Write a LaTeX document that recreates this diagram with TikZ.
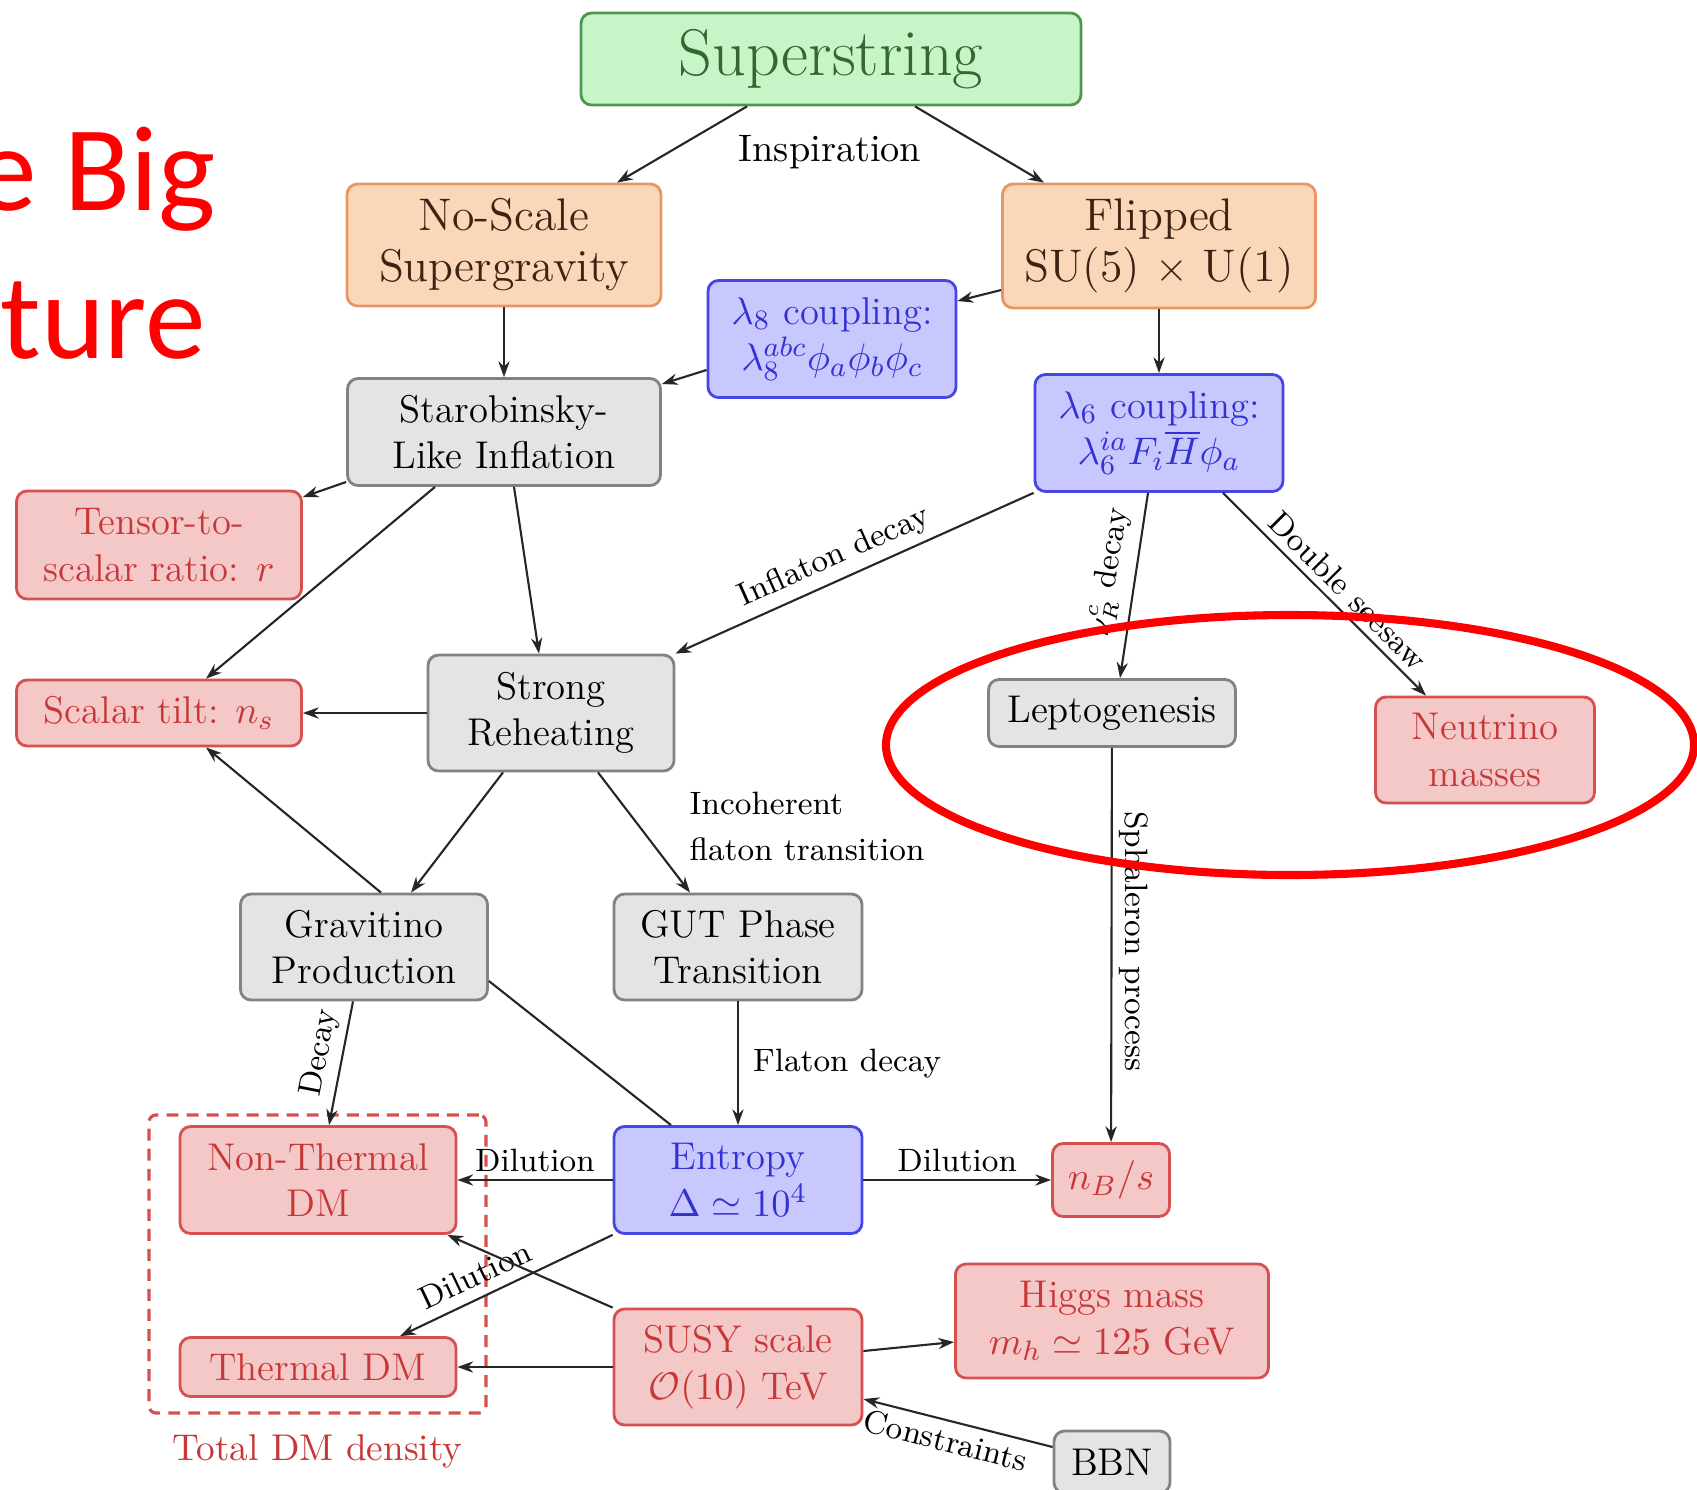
\documentclass[tikz,border=0pt]{standalone}
\usepackage{amsmath}
\usepackage{amssymb}
\usepackage{fontspec}
\newfontfamily\slidefont{Carlito}
\usetikzlibrary{arrows.meta,positioning}

\definecolor{supfill}{RGB}{200,245,200}
\definecolor{supdraw}{RGB}{80,150,80}
\definecolor{suptext}{RGB}{50,105,50}
\definecolor{orfill}{RGB}{250,215,185}
\definecolor{ordraw}{RGB}{230,150,100}
\definecolor{ortext}{RGB}{60,35,20}
\definecolor{blfill}{RGB}{200,200,255}
\definecolor{bldraw}{RGB}{70,70,230}
\definecolor{bltext}{RGB}{50,50,210}
\definecolor{grfill}{RGB}{228,228,228}
\definecolor{grdraw}{RGB}{130,130,130}
\definecolor{rdfill}{RGB}{245,200,200}
\definecolor{rddraw}{RGB}{215,80,80}
\definecolor{rdtext}{RGB}{200,55,55}

\tikzset{
  box/.style={draw, rounded corners=3pt, line width=0.8pt, align=center, inner sep=1pt,
    font=\fontsize{11}{13.2}\selectfont},
  wh/.style 2 args={minimum width=#1cm, minimum height=#2cm},
  supbox/.style={box, fill=supfill, draw=supdraw, text=suptext, font=\fontsize{18.8}{21}\selectfont},
  orbox/.style={box, fill=orfill, draw=ordraw, text=ortext, font=\fontsize{13}{14.5}\selectfont},
  blbox/.style={box, fill=blfill, draw=bldraw, text=bltext},
  grbox/.style={box, fill=grfill, draw=grdraw},
  rdbox/.style={box, fill=rdfill, draw=rddraw, text=rdtext},
  arr/.style={-{Stealth[length=4.5pt,width=3.2pt]}, line width=0.6pt, black!85},
  plain/.style={line width=0.6pt, black!85},
  lbl/.style={font=\fontsize{9.2}{13.2}\selectfont, inner sep=2pt, text=black},
  dmframe/.style={draw=rddraw, dashed, dash pattern=on 3.4pt off 2.3pt, line width=0.9pt, rounded corners=2pt},
  slide/.style={text=red, font=\slidefont\fontsize{34.5}{40}\selectfont, inner sep=0pt},
}

\begin{document}
\begin{tikzpicture}
\useasboundingbox (0,0) rectangle (16.97,-14.89);
\clip (0,0) rectangle (16.97,-14.89);

\node[slide, anchor=base east] (tbig) at (2.16,-2.10) {e Big};
\node[slide, anchor=base west] (tture) at (0.00,-3.58) {ture};

\node[supbox, wh={5.00}{0.92}] (super) at (8.31,-0.59) {Superstring};
\node[orbox, wh={3.14}{1.22}] (noscale) at (5.04,-2.45) {No-Scale\\Supergravity};
\node[orbox, wh={3.13}{1.24}] (flipped) at (11.59,-2.46) {Flipped\\SU(5) $\times$ U(1)};
\node[blbox, wh={2.48}{1.17}] (lam8) at (8.32,-3.39) {$\lambda_8$ coupling:\\$\lambda_8^{abc}\phi_a\phi_b\phi_c$};
\node[grbox, wh={3.13}{1.07}] (staro) at (5.04,-4.32) {Starobinsky-\\Like Inflation};
\node[blbox, wh={2.48}{1.17}] (lam6) at (11.59,-4.33) {$\lambda_6$ coupling:\\$\lambda_6^{ia}F_i\overline{H}\phi_a$};
\node[rdbox, wh={2.85}{1.08}] (tensor) at (1.59,-5.45) {Tensor-to-\\scalar ratio: $r$};
\node[rdbox, wh={2.85}{0.66}] (tilt) at (1.59,-7.13) {Scalar tilt: $n_s$};
\node[grbox, wh={2.46}{1.16}] (reheat) at (5.51,-7.13) {Strong\\Reheating};
\node[grbox, wh={2.47}{0.67}] (lepto) at (11.12,-7.13) {Leptogenesis};
\node[rdbox, wh={2.19}{1.06}] (numass) at (14.85,-7.50) {Neutrino\\masses};
\node[grbox, wh={2.47}{1.06}] (gravi) at (3.64,-9.47) {Gravitino\\Production};
\node[grbox, wh={2.48}{1.06}] (gut) at (7.38,-9.47) {GUT Phase\\Transition};
\node[rdbox, wh={2.76}{1.07}] (nonth) at (3.18,-11.80) {Non-Thermal\\DM};
\node[blbox, wh={2.48}{1.07}] (entropy) at (7.38,-11.80) {Entropy\\$\Delta\simeq10^4$};
\node[rdbox, wh={1.17}{0.73}] (nbs) at (11.11,-11.80) {$n_B/s$};
\node[rdbox, wh={2.76}{0.59}] (thermal) at (3.18,-13.67) {Thermal DM};
\node[rdbox, wh={2.48}{1.16}] (susy) at (7.38,-13.67) {SUSY scale\\$\mathcal{O}(10)$ TeV};
\node[rdbox, wh={3.13}{1.14}] (higgs) at (11.12,-13.21) {Higgs mass\\$m_h\simeq125$ GeV};
\node[grbox, wh={1.16}{0.62}] (bbn) at (11.12,-14.62) {BBN};

\node[dmframe, wh={3.37}{2.98}] (dmbox) at (3.175,-12.64) {};
\node[text=rdtext, font=\fontsize{10.6}{12}\selectfont, below=0.08cm of dmbox] (dmlabel) {Total DM density};

\draw[arr] ([xshift=-0.84cm]super.south) -- ([xshift=1.13cm]noscale.north);
\draw[arr] ([xshift=0.84cm]super.south) -- ([xshift=-1.15cm]flipped.north);
\node[font=\fontsize{10.9}{13}\selectfont] (insp) at (8.30,-1.52) {Inspiration};
\draw[arr] (noscale) -- (staro);
\draw[arr] ([yshift=-0.44cm]flipped.west) -- ([yshift=0.38cm]lam8.east);
\draw[arr] ([yshift=-0.31cm]lam8.west) -- ([yshift=0.48cm]staro.east);
\draw[arr] (flipped) -- (lam6);
\draw[arr] ([yshift=-0.50cm]staro.west) -- ([yshift=0.48cm]tensor.east);
\draw[arr] ([xshift=-0.69cm]staro.south) -- ([xshift=0.47cm]tilt.north);
\draw[arr] ([xshift=0.10cm]staro.south) -- ([xshift=-0.12cm]reheat.north);
\draw[arr] (lam6.south west) -- node[lbl, sloped, above, pos=0.53] {Inflaton decay} (reheat.north east);
\draw[arr] ([xshift=-0.11cm]lam6.south) -- node[lbl, sloped, above=1pt, pos=0.45] {$\nu^c_R$ decay} ([xshift=0.08cm]lepto.north);
\draw[arr] ([xshift=0.64cm]lam6.south) -- node[lbl, sloped, above, pos=0.55] {Double seesaw} ([xshift=-0.59cm]numass.north);
\draw[arr] (reheat) -- (tilt);
\draw[arr] ([xshift=-0.48cm]reheat.south) -- ([xshift=0.47cm]gravi.north);
\draw[arr] ([xshift=0.47cm]reheat.south) -- node[lbl, align=left, pos=0.45, right=12pt] {Incoherent\\flaton transition} ([xshift=-0.48cm]gut.north);
\draw[arr] ([xshift=0.17cm]gravi.north) -- ([xshift=0.47cm]tilt.south);
\draw[arr] ([xshift=-0.11cm]gravi.south) -- node[lbl, sloped, above, pos=0.45] {Decay} ([xshift=0.11cm]nonth.north);
\draw[plain] ([yshift=-0.34cm]gravi.east) -- ([xshift=-0.67cm]entropy.north);
\draw[arr] (gut) -- node[lbl, right=2pt] {Flaton decay} (entropy);
\draw[arr] (entropy) -- node[lbl, above] {Dilution} (nonth);
\draw[arr] (entropy) -- node[lbl, above] {Dilution} (nbs);
\draw[arr] (lepto) -- node[lbl, rotate=-90, above=1pt] {Sphaleron process} (nbs);
\draw[arr] (entropy.south west) -- node[lbl, sloped, above=1pt, pos=0.6] {Dilution} ([xshift=0.82cm]thermal.north);
\draw[arr] (susy.north west) -- ([xshift=-0.10cm]nonth.south east);
\draw[arr] (susy) -- (thermal);
\draw[arr] ([yshift=0.16cm]susy.east) -- ([yshift=-0.21cm]higgs.west);
\draw[arr] ([yshift=0.15cm]bbn.west) -- node[lbl, sloped, below, pos=0.54] {Constraints} ([yshift=-0.32cm]susy.east);

\draw[red, line width=2.3pt] (12.90,-7.45) ellipse [x radius=4.04, y radius=1.30];
\end{tikzpicture}
\end{document}
